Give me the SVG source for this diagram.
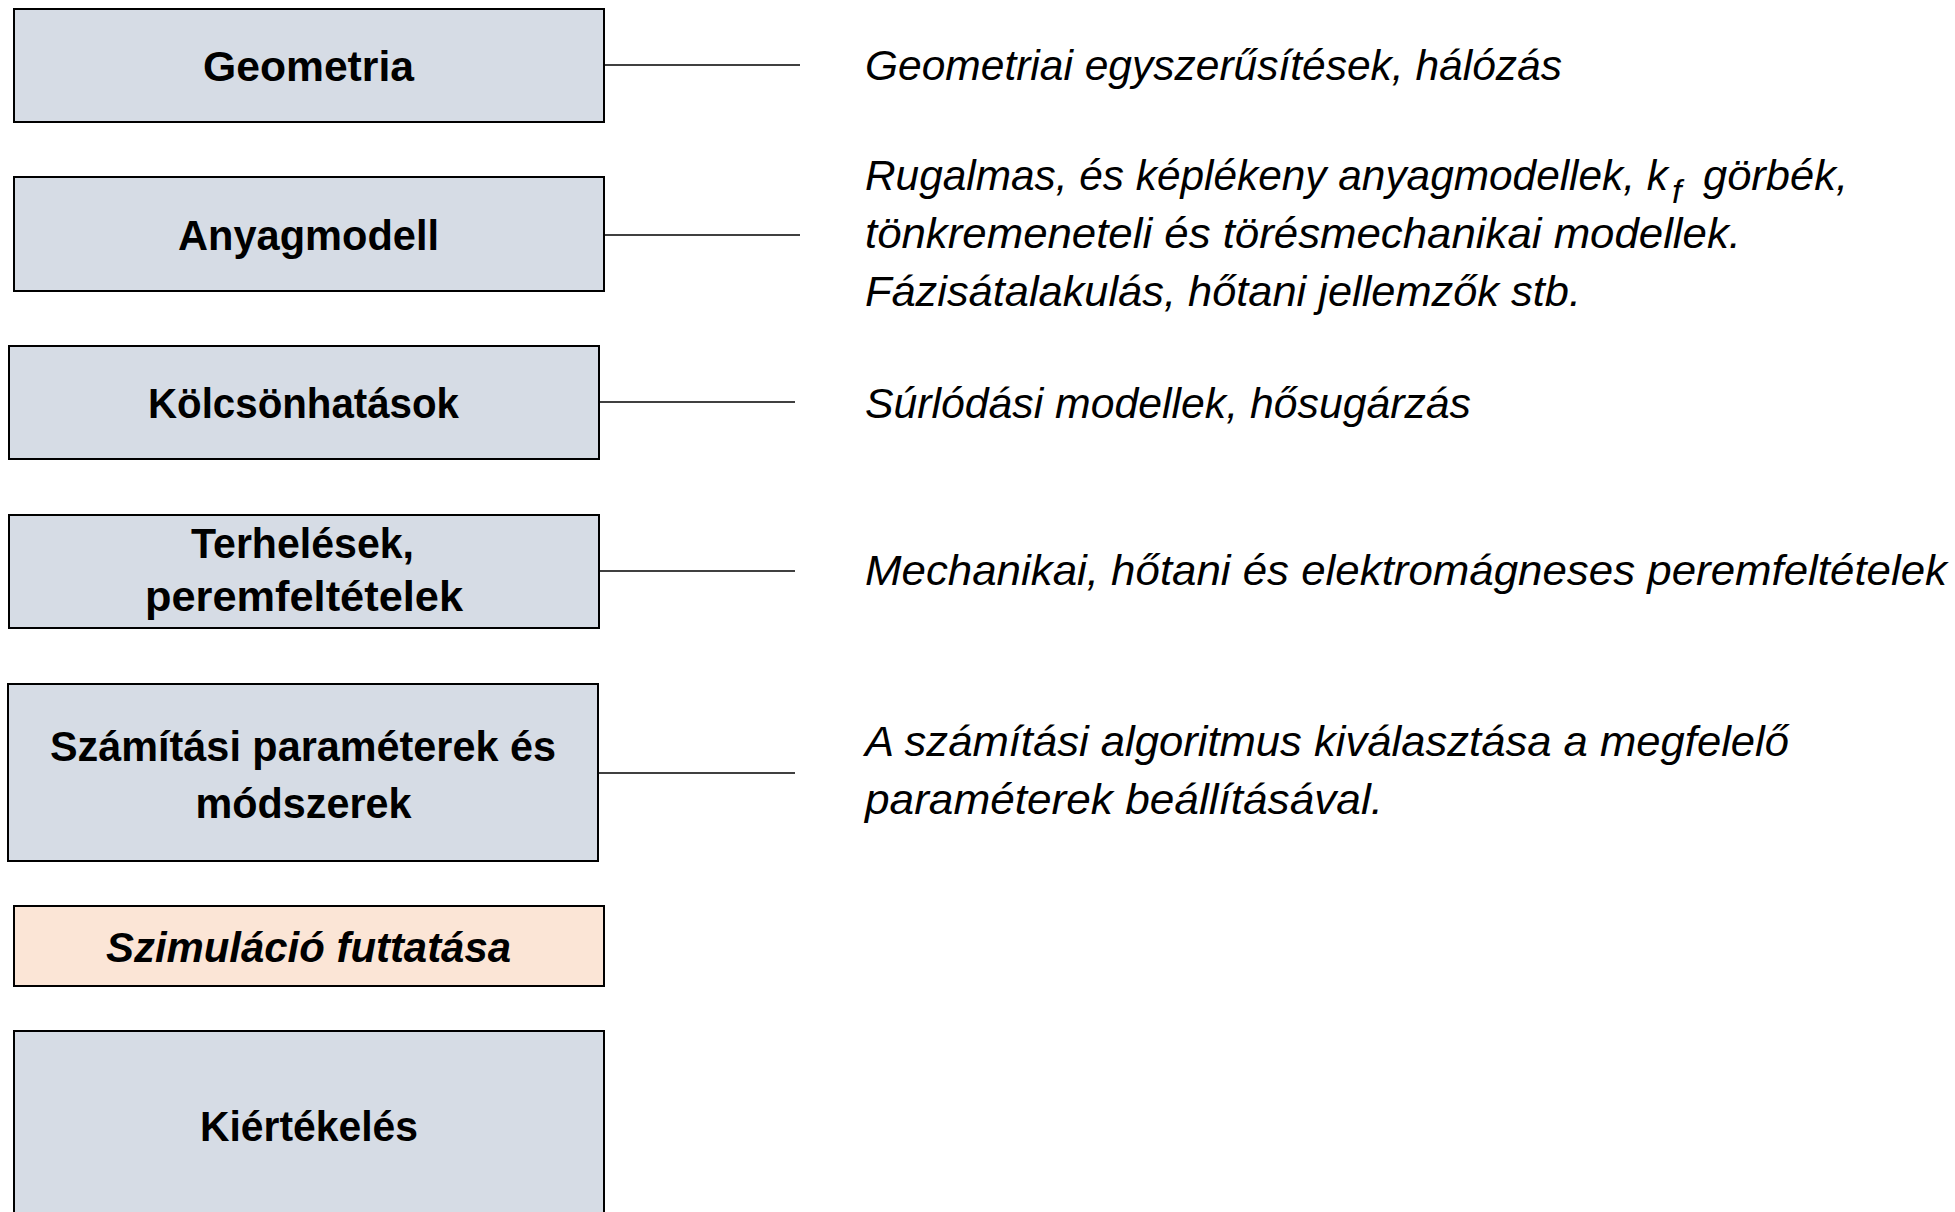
<svg xmlns="http://www.w3.org/2000/svg" width="1955" height="1212" viewBox="0 0 1955 1212">
<style>
.box{fill:#D6DCE5;stroke:#000;stroke-width:2}
.run{fill:#FBE5D6;stroke:#000;stroke-width:2}
.lbl{font-family:'Liberation Sans',Arial,sans-serif;font-weight:bold;font-size:43px;text-anchor:middle;fill:#000}
.desc{font-family:'Liberation Sans',Arial,sans-serif;font-style:italic;font-size:43px;fill:#000}
.conn line{stroke:#000;stroke-width:1.3}
</style>
<rect width="1955" height="1212" fill="#fff"/>
<g class="conn">
<line x1="604" y1="65" x2="800" y2="65"/>
<line x1="604" y1="235" x2="800" y2="235"/>
<line x1="599" y1="402" x2="795" y2="402"/>
<line x1="599" y1="571" x2="795" y2="571"/>
<line x1="598" y1="773" x2="795" y2="773"/>
</g>
<g id="geometria">
<rect class="box" x="14" y="9" width="590" height="113"/>
<text class="lbl" x="308.5" y="81" textLength="211" lengthAdjust="spacingAndGlyphs">Geometria</text>
</g>
<g id="anyagmodell">
<rect class="box" x="14" y="177" width="590" height="114"/>
<text class="lbl" x="308.5" y="250" textLength="261" lengthAdjust="spacingAndGlyphs">Anyagmodell</text>
</g>
<g id="kolcsonhatasok">
<rect class="box" x="9" y="346" width="590" height="113"/>
<text class="lbl" x="303.5" y="418" textLength="311" lengthAdjust="spacingAndGlyphs">Kölcsönhatások</text>
</g>
<g id="terhelesek">
<rect class="box" x="9" y="515" width="590" height="113"/>
<text class="lbl" x="302.5" y="558" textLength="223" lengthAdjust="spacingAndGlyphs">Terhelések,</text>
<text class="lbl" x="304" y="611" textLength="318" lengthAdjust="spacingAndGlyphs">peremfeltételek</text>
</g>
<g id="szamitasi">
<rect class="box" x="8" y="684" width="590" height="177"/>
<text class="lbl" x="303" y="761" textLength="506" lengthAdjust="spacingAndGlyphs">Számítási paraméterek és</text>
<text class="lbl" x="303.5" y="818" textLength="216" lengthAdjust="spacingAndGlyphs">módszerek</text>
</g>
<g id="szimulacio">
<rect class="run" x="14" y="906" width="590" height="80"/>
<text class="lbl" x="308.5" y="962" font-style="italic" textLength="405" lengthAdjust="spacingAndGlyphs">Szimuláció futtatása</text>
</g>
<g id="kiertekeles">
<rect class="box" x="14" y="1031" width="590" height="190"/>
<text class="lbl" x="309" y="1141" textLength="218" lengthAdjust="spacingAndGlyphs">Kiértékelés</text>
</g>
<g id="descriptions">
<text class="desc" x="865" y="80" textLength="697" lengthAdjust="spacingAndGlyphs">Geometriai egyszerűsítések, hálózás</text>
<text class="desc" y="190"><tspan x="865" textLength="803" lengthAdjust="spacingAndGlyphs">Rugalmas, és képlékeny anyagmodellek, k</tspan><tspan x="1672" dy="13" font-size="34">f</tspan><tspan x="1703" dy="-13" textLength="145" lengthAdjust="spacingAndGlyphs">görbék,</tspan></text>
<text class="desc" x="865" y="248" textLength="876" lengthAdjust="spacingAndGlyphs">tönkremeneteli és törésmechanikai modellek.</text>
<text class="desc" x="865" y="306" textLength="716" lengthAdjust="spacingAndGlyphs">Fázisátalakulás, hőtani jellemzők stb.</text>
<text class="desc" x="865" y="418" textLength="606" lengthAdjust="spacingAndGlyphs">Súrlódási modellek, hősugárzás</text>
<text class="desc" x="865" y="585" textLength="1082" lengthAdjust="spacingAndGlyphs">Mechanikai, hőtani és elektromágneses peremfeltételek</text>
<text class="desc" x="865" y="756" textLength="924" lengthAdjust="spacingAndGlyphs">A számítási algoritmus kiválasztása a megfelelő</text>
<text class="desc" x="865" y="814" textLength="518" lengthAdjust="spacingAndGlyphs">paraméterek beállításával.</text>
</g>
</svg>
